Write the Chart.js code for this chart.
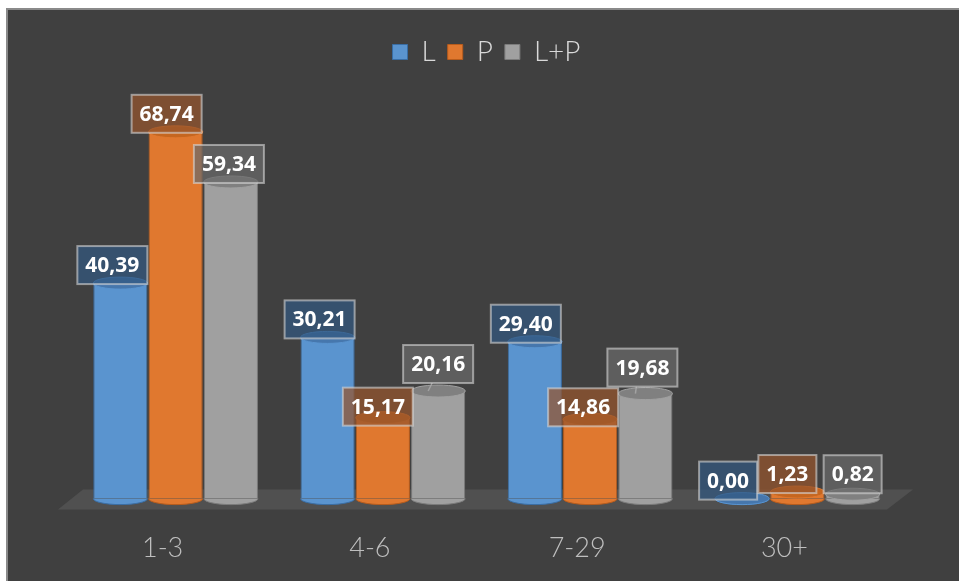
<!DOCTYPE html>
<html>
<head>
<meta charset="utf-8">
<script src="https://cdn.jsdelivr.net/npm/chart.js@4.4.1/dist/chart.umd.min.js"></script>
<style>
  html, body { margin: 0; padding: 0; background: #ffffff; overflow: hidden; }
  .frame {
    position: absolute; left: 6px; top: 8px; width: 980px; height: 600px;
    background: #404040; border: 2px solid #8a8a8a; box-sizing: border-box;
  }
  .wrap { position: absolute; left: 0; top: 0; width: 959px; height: 581px; }
</style>
</head>
<body>
<div class="frame"></div>
<div class="wrap"><canvas id="chart"></canvas></div>
<script>
// values
const categories = ['1-3', '4-6', '7-29', '30+'];
const seriesNames = ['L', 'P', 'L+P'];
const valuesL = [40.39, 30.21, 29.40, 0.00];
const valuesP = [68.74, 15.17, 14.86, 1.23];
const valuesLP = [59.34, 20.16, 19.68, 0.82];

// colours per series: body, edge, cap, label box
const bodyColors = ['#5a94cf', '#e0782f', '#a0a0a0'];
const edgeColors = ['#3a6ea5', '#b85c1c', '#7c7c7c'];
const capColors = ['#4677ad', '#c6661f', '#808080'];
const boxColors = ['rgba(50,88,128,0.72)', 'rgba(150,85,45,0.72)', 'rgba(105,105,105,0.72)'];

// label nudges (px) so the boxes sit like in the picture
const labelDx = [[-8, -8, -9, -14], [-9, -5, -7, -10], [-2, 0, -3, 0]];
const labelDy = [[0, 0, 0, 0], [0, 7, 6, 0], [0, -9, -8, -2]];

const fmt = v => v.toFixed(2).replace('.', ',');

const cylinders = {
  id: 'cylinders',
  beforeDatasetsDraw(chart) {
    // the grey floor under the bars
    const ctx = chart.ctx;
    const a = chart.chartArea;
    const base = chart.scales.y.getPixelForValue(0);
    ctx.save();
    ctx.fillStyle = '#505050';
    ctx.beginPath();
    ctx.moveTo(a.left - 14, base + 11);
    ctx.lineTo(a.left + 11, base - 9);
    ctx.lineTo(a.right + 12, base - 9);
    ctx.lineTo(a.right - 14, base + 11);
    ctx.closePath();
    ctx.fill();
    ctx.restore();
  },
  afterDatasetsDraw(chart) {
    const ctx = chart.ctx;
    ctx.save();
    // caps and rounded bottoms
    chart.data.datasets.forEach((ds, di) => {
      const meta = chart.getDatasetMeta(di);
      meta.data.forEach(bar => {
        const p = bar.getProps(['x', 'y', 'base', 'width'], true);
        const rx = p.width / 2, ry = 6;
        ctx.lineWidth = 1;
        ctx.beginPath();
        ctx.ellipse(p.x, p.base, rx, ry, 0, 0, Math.PI);
        ctx.fillStyle = bodyColors[di];
        ctx.fill();
        ctx.strokeStyle = edgeColors[di];
        ctx.stroke();
        ctx.beginPath();
        ctx.ellipse(p.x, p.y, rx, ry, 0, 0, Math.PI * 2);
        ctx.fillStyle = capColors[di];
        ctx.fill();
        ctx.strokeStyle = bodyColors[di];
        ctx.stroke();
      });
    });
    // value boxes
    ctx.font = 'bold 21px "Open Sans", sans-serif';
    ctx.textAlign = 'center';
    ctx.textBaseline = 'middle';
    chart.data.datasets.forEach((ds, di) => {
      const meta = chart.getDatasetMeta(di);
      meta.data.forEach((bar, i) => {
        const p = bar.getProps(['x', 'y'], true);
        const txt = fmt(ds.data[i]);
        const w = ctx.measureText(txt).width + 16;
        const h = 38;
        const cx = p.x + labelDx[di][i];
        const cy = p.y - 18 + labelDy[di][i];
        if (labelDy[di][i] < -4) {
          ctx.strokeStyle = 'rgba(170,170,170,0.8)';
          ctx.lineWidth = 1.5;
          ctx.beginPath();
          ctx.moveTo(cx - 6, cy + h / 2);
          ctx.lineTo(p.x - 10, p.y);
          ctx.stroke();
        }
        ctx.fillStyle = boxColors[di];
        ctx.fillRect(cx - w / 2, cy - h / 2, w, h);
        ctx.strokeStyle = 'rgba(215,215,215,0.6)';
        ctx.lineWidth = 2;
        ctx.strokeRect(cx - w / 2, cy - h / 2, w, h);
        ctx.fillStyle = '#ffffff';
        ctx.fillText(txt, cx, cy + 1);
      });
    });
    ctx.restore();
  }
};

const allValues = [valuesL, valuesP, valuesLP];

new Chart(document.getElementById('chart'), {
  type: 'bar',
  data: {
    labels: categories,
    datasets: seriesNames.map((name, i) => ({
      label: name,
      data: allValues[i],
      backgroundColor: bodyColors[i],
      borderColor: edgeColors[i],
      borderWidth: 1,
      barPercentage: 0.98,
      categoryPercentage: 0.8
    }))
  },
  options: {
    responsive: true,
    maintainAspectRatio: false,
    animation: false,
    layout: {
      padding: { left: 72, right: 58, top: 26, bottom: -16 }
    },
    plugins: {
      legend: {
        position: 'top',
        labels: {
          color: '#d9d9d9',
          font: { family: 'Lato, "Open Sans", sans-serif', size: 28, weight: 300 },
          boxWidth: 15,
          boxHeight: 15,
          padding: 12
        }
      },
      tooltip: { enabled: false }
    },
    scales: {
      x: {
        grid: { display: false, drawTicks: false },
        border: { display: false },
        ticks: {
          color: '#bfbfbf',
          font: { family: 'Lato, "Open Sans", sans-serif', size: 27, weight: 300 },
          padding: 33,
          labelOffset: -13
        }
      },
      y: {
        display: false,
        min: 0,
        max: 79.2
      }
    }
  },
  plugins: [cylinders]
});
</script>
</body>
</html>
